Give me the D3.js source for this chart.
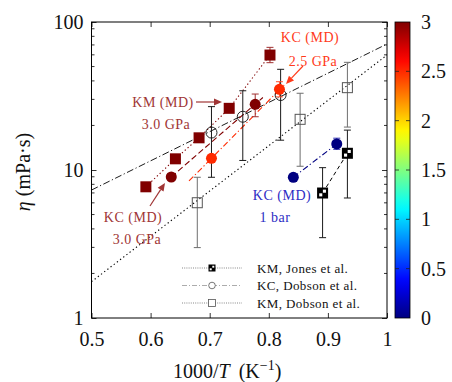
<!DOCTYPE html>
<html><head><meta charset="utf-8">
<script src="https://cdn.jsdelivr.net/npm/d3@7"></script>
<style>
body{margin:0;background:#fff}
svg{display:block}
text{font-family:"Liberation Serif","Times New Roman",serif}
</style></head>
<body><svg id="c" width="452" height="382"></svg>
<script>
// ---------- data ----------
const xTickValues=[0.5,0.6,0.7,0.8,0.9,1];
const yTickValues=[1,10,100];
const cbTickValues=[0,0.5,1,1.5,2,2.5,3];
const legendLabels=["KM, Jones et al.","KC, Dobson et al.","KM, Dobson et al."];

// KM (MD) 3.0 GPa (squares)
const kmMD_x=[0.592,0.642,0.682,0.733,0.802];
const kmMD_y=[7.7,11.9,16.5,26.1,59.8];
const kmMD_lo=[null,null,null,null,53.1];
const kmMD_hi=[null,null,null,null,67.4];
const kmMD_p=3.0;
// KC (MD) 3.0 GPa (circles)
const kcMD30_x=[0.635,0.777];
const kcMD30_y=[8.97,27.8];
const kcMD30_lo=[null,22.9];
const kcMD30_hi=[null,32.6];
const kcMD30_fitX=[0.635,0.79];
const kcMD30_fitY=[8.97,30.9];
const kcMD30_p=3.0;
// KC (MD) 2.5 GPa
const kcMD25_x=[0.703,0.818];
const kcMD25_y=[12.0,35.1];
const kcMD25_lo=[null,31.2];
const kcMD25_hi=[null,39.5];
const kcMD25_fitX=[0.665,0.826];
const kcMD25_fitY=[8.43,37.5];
const kcMD25_p=2.5;
// KC (MD) 1 bar
const kcMD1_x=[0.8415,0.915];
const kcMD1_y=[8.93,15.0];
const kcMD1_lo=[null,13.8];
const kcMD1_hi=[null,16.4];
const kcMD1_p=0.0;
// KM, Jones et al.
const jones_x=[0.891,0.933];
const jones_y=[6.99,12.97];
const jones_lo=[3.49,6.47];
const jones_hi=[10.37,18.6];
// KC, Dobson et al.
const kcDob_x=[0.703,0.756,0.820];
const kcDob_y=[17.9,22.9,32.1];
const kcDob_lo=[8.93,11.6,15.9];
const kcDob_hi=[26.8,34.3,47.9];
const kcDobFitX=[0.5,1.0];
const kcDobFitY=[7.32,71.0];
// KM, Dobson et al.
const kmDob_x=[0.679,0.853,0.933];
const kmDob_y=[6.01,22.0,36.0];
const kmDob_lo=[2.99,10.6,19.5];
const kmDob_hi=[8.93,33.0,53.4];
const kmDobFitX=[0.5,1.0];
const kmDobFitY=[1.76,59.8];

// ---------- setup ----------
const svg=d3.select("#c");
const L=91.5,R=387,T=22,B=318;
const x=d3.scaleLinear([0.5,1],[L,R]);
const y=d3.scaleLog([1,100],[B,T]);
function jet(v){const t=v/3;const c=k=>Math.max(0,Math.min(1,1.5-Math.abs(4*t-k)));
  return d3.rgb(c(3)*255,c(2)*255,c(1)*255).formatHex();}
const cb=d3.scaleLinear([0,3],[B,T]);

const defs=svg.append("defs");
const clip=defs.append("clipPath").attr("id","pc");
clip.append("rect").attr("x",L).attr("y",T).attr("width",R-L).attr("height",B-T);
const gp=svg.append("g").attr("clip-path","url(#pc)");

function line(xs,ys,color,dash,w){
  gp.append("path").datum(xs.map((v,i)=>[v,ys[i]]))
    .attr("d",d3.line().x(d=>x(d[0])).y(d=>y(d[1])))
    .attr("fill","none").attr("stroke",color).attr("stroke-width",w||1)
    .attr("stroke-dasharray",dash);
}
function errs(xs,lo,hi,color){
  xs.forEach((v,i)=>{ if(lo[i]==null) return;
    const g=gp.append("g").attr("stroke",color).attr("stroke-width",1);
    g.append("line").attr("x1",x(v)).attr("x2",x(v)).attr("y1",y(lo[i])).attr("y2",y(hi[i]));
    [lo[i],hi[i]].forEach(e=>g.append("line").attr("x1",x(v)-3.5).attr("x2",x(v)+3.5).attr("y1",y(e)).attr("y2",y(e)));
  });
}

// fit / connecting lines
line(kcDobFitX,kcDobFitY,"#000","7,2.5,1.2,2.5",0.9);
line(kmDobFitX,kmDobFitY,"#000","1.3,2.7",1.1);
line(kmMD_x,kmMD_y,jet(kmMD_p),"1.3,2.5",1.1);
line(kcMD30_fitX,kcMD30_fitY,jet(kcMD30_p),"6,3",1.1);
line(kcMD25_fitX,kcMD25_fitY,jet(kcMD25_p),"6,2.5,1.2,2.5",1.1);
line(kcMD1_x,kcMD1_y,jet(kcMD1_p),"6,2.5,1.2,2.5",1.1);
line(jones_x,jones_y,"#000","4,3",1);

// error bars
errs(kmDob_x,kmDob_lo,kmDob_hi,"#6e6e6e");
errs(kcDob_x,kcDob_lo,kcDob_hi,"#1a1a1a");
errs(jones_x,jones_lo,jones_hi,"#1a1a1a");
errs(kmMD_x,kmMD_lo,kmMD_hi,"#a03030");
errs(kcMD30_x,kcMD30_lo,kcMD30_hi,"#a03030");
errs(kcMD25_x,kcMD25_lo,kcMD25_hi,"#ff5030");
errs(kcMD1_x,kcMD1_lo,kcMD1_hi,"#3030b0");

// markers
function squares(xs,ys,s,fill,stroke,sw){
  xs.forEach((v,i)=>gp.append("rect").attr("x",x(v)-s/2).attr("y",y(ys[i])-s/2)
    .attr("width",s).attr("height",s).attr("fill",fill).attr("stroke",stroke).attr("stroke-width",sw||0));
}
function circles(xs,ys,r,fill,stroke,sw){
  xs.forEach((v,i)=>gp.append("circle").attr("cx",x(v)).attr("cy",y(ys[i])).attr("r",r)
    .attr("fill",fill).attr("stroke",stroke).attr("stroke-width",sw||0));
}
function jonesMarker(g,cx,cy,s){
  g.append("rect").attr("x",cx-s/2).attr("y",cy-s/2).attr("width",s).attr("height",s).attr("fill","#000");
  const q=s*0.28;
  g.append("rect").attr("x",cx+0.3).attr("y",cy-q-0.3).attr("width",q).attr("height",q).attr("fill","#fff");
  g.append("rect").attr("x",cx-q-0.3).attr("y",cy+0.3).attr("width",q).attr("height",q).attr("fill","#fff");
}
squares(kmDob_x,kmDob_y,10,"none","#555",1);
circles(kcDob_x,kcDob_y,5.5,"none","#111",0.9);
squares(kmMD_x,kmMD_y,11,jet(kmMD_p),"none");
circles(kcMD30_x,kcMD30_y,5.5,jet(kcMD30_p),"none");
circles(kcMD25_x,kcMD25_y,5.5,jet(kcMD25_p),"none");
circles(kcMD1_x,kcMD1_y,5.5,jet(kcMD1_p),"none");
jones_x.forEach((v,i)=>jonesMarker(gp,x(v),y(jones_y[i]),11));

// ---------- axes ----------
const tk=svg.append("g").attr("stroke","#000").attr("stroke-width",0.8);
const minor=[];
for(let d=1;d<100;d*=10) for(let k=2;k<=9;k++) minor.push(d*k);
minor.forEach(v=>{
  tk.append("line").attr("x1",L).attr("x2",L+3).attr("y1",y(v)).attr("y2",y(v));
  tk.append("line").attr("x1",R).attr("x2",R-3).attr("y1",y(v)).attr("y2",y(v));
});
svg.append("g").attr("transform",`translate(0,${B})`)
  .call(d3.axisBottom(x).tickValues(xTickValues).tickSizeInner(-5).tickSizeOuter(0).tickPadding(14).tickFormat(d3.format("")));
svg.append("g").attr("transform",`translate(${L},0)`)
  .call(d3.axisLeft(y).tickValues(yTickValues).tickSizeInner(-5).tickSizeOuter(0).tickPadding(8).tickFormat(d3.format("d")));
svg.append("g").attr("transform",`translate(0,${T})`)
  .call(d3.axisTop(x).tickValues(xTickValues).tickSizeInner(-5).tickSizeOuter(0).tickFormat(""));
svg.append("g").attr("transform",`translate(${R},0)`)
  .call(d3.axisRight(y).tickValues(yTickValues).tickSizeInner(-5).tickSizeOuter(0).tickFormat(""));
svg.selectAll(".domain").remove();
svg.selectAll(".tick text").attr("font-size",20).attr("font-family","Liberation Serif").attr("fill","#111");
svg.selectAll(".tick line").attr("stroke-width",0.8);
svg.append("rect").attr("x",L).attr("y",T).attr("width",R-L).attr("height",B-T)
  .attr("fill","none").attr("stroke","#000").attr("stroke-width",1);

// axis labels
const xl=svg.append("text").attr("x",173).attr("y",378).attr("font-size",20).attr("fill","#111");
xl.append("tspan").text("1000/");
xl.append("tspan").attr("font-style","italic").text("T");
xl.append("tspan").attr("dx",9).text("(K");
xl.append("tspan").attr("dy",-8).attr("font-size",14).text("−1");
xl.append("tspan").attr("dy",8).text(")");
const yl=svg.append("text").attr("transform","translate(30,172) rotate(-90)").attr("text-anchor","middle").attr("font-size",20).attr("fill","#111");
yl.append("tspan").attr("font-style","italic").text("η");
yl.append("tspan").attr("dx",5).text("(mPa·s)");

// ---------- colorbar ----------
const grad=defs.append("linearGradient").attr("id","jet").attr("x1",0).attr("x2",0).attr("y1",1).attr("y2",0);
d3.range(0,3.0001,0.1).forEach(v=>grad.append("stop").attr("offset",v/3).attr("stop-color",jet(v)));
const CX=395,CW=15;
svg.append("rect").attr("x",CX).attr("y",T).attr("width",CW).attr("height",B-T).attr("fill","url(#jet)")
  .attr("stroke","#000").attr("stroke-width",0.8);
cbTickValues.forEach(v=>{
  if(v>0&&v<3){
    svg.append("line").attr("x1",CX).attr("x2",CX+4).attr("y1",cb(v)).attr("y2",cb(v)).attr("stroke","#222").attr("stroke-width",0.8);
    svg.append("line").attr("x1",CX+CW).attr("x2",CX+CW-4).attr("y1",cb(v)).attr("y2",cb(v)).attr("stroke","#222").attr("stroke-width",0.8);
  }
  svg.append("text").attr("x",421).attr("y",cb(v)).attr("dy","0.35em").attr("font-size",20).attr("fill","#111").text(d3.format("")(v));
});

// ---------- annotations ----------
function label(t,cx,cy,color){svg.append("text").attr("x",cx).attr("y",cy).attr("dy","0.35em").attr("text-anchor","middle")
  .attr("font-size",14).attr("letter-spacing",0.5).attr("fill",color).text(t);}
function arrow(x1,y1,x2,y2,color){
  const a=Math.atan2(y2-y1,x2-x1),h=8,w=3.5;
  svg.append("line").attr("x1",x1).attr("y1",y1).attr("x2",x2-h*Math.cos(a)).attr("y2",y2-h*Math.sin(a))
    .attr("stroke",color).attr("stroke-width",1.2);
  const p=[[x2,y2],[x2-h*Math.cos(a)+w*Math.sin(a),y2-h*Math.sin(a)-w*Math.cos(a)],[x2-h*Math.cos(a)-w*Math.sin(a),y2-h*Math.sin(a)+w*Math.cos(a)]];
  svg.append("path").attr("d","M"+p.join("L")+"Z").attr("fill",color);
}
const cKM="#a03535", cKC25="#ff3a1a", cBlue="#2d2dc4";
label("KM (MD)",163,102,cKM); label("3.0 GPa",166,124,cKM);
arrow(196,102,222,102,cKM);
label("KC (MD)",133,217,cKM); label("3.0 GPa",137,239,cKM);
arrow(150,206,165,183,cKM);
label("KC (MD)",310,37,cKC25); label("2.5 GPa",313,61,cKC25);
arrow(303,66,286,84,cKC25);
label("KC (MD)",282,195,cBlue); label("1 bar",275,217,cBlue);

// ---------- legend ----------
const lg=svg.append("g");
const lgY=[268,285.5,303];
const lgDash=["1,1.2","5,2,1,2","1,1.2"];
const lgColor=["#555","#888","#555"];
legendLabels.forEach((t,i)=>{
  lg.append("line").attr("x1",182).attr("x2",242).attr("y1",lgY[i]).attr("y2",lgY[i])
    .attr("stroke",lgColor[i]).attr("stroke-width",0.7).attr("stroke-dasharray",lgDash[i]);
  lg.append("text").attr("x",257).attr("y",lgY[i]).attr("dy","0.35em").attr("font-size",13).attr("letter-spacing",0.4).attr("fill","#111").text(t);
});
jonesMarker(lg,212,lgY[0],7);
lg.append("circle").attr("cx",212).attr("cy",lgY[1]).attr("r",3.3).attr("fill","#fff").attr("stroke","#555").attr("stroke-width",0.8);
lg.append("rect").attr("x",208.5).attr("y",lgY[2]-3.5).attr("width",7).attr("height",7).attr("fill","#fff").attr("stroke","#555").attr("stroke-width",0.8);
</script></body></html>
